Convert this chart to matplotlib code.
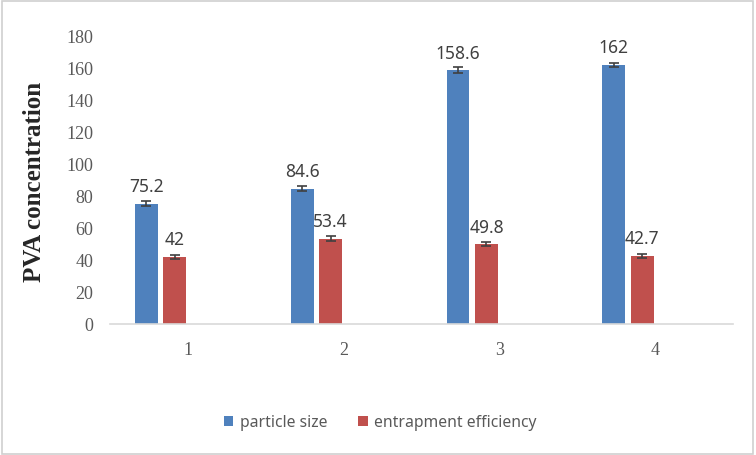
import matplotlib
matplotlib.use("Agg")
import matplotlib.pyplot as plt
import numpy as np
from matplotlib.patches import Rectangle

categories = ["1", "2", "3", "4"]
particle_size = [75.2, 84.6, 158.6, 162]
entrapment = [42, 53.4, 49.8, 42.7]
particle_err = [1.5, 1.5, 2.0, 1.2]
entrapment_err = [1.3, 1.3, 1.2, 1.2]
yticks = [0, 20, 40, 60, 80, 100, 120, 140, 160, 180]

fig = plt.figure(figsize=(7.56, 4.56), dpi=100)
fig.patches.append(Rectangle((0.002, 0.003), 0.994, 0.993, transform=fig.transFigure,
                             fill=False, edgecolor="#d0d0d0", linewidth=1.2))
ax = fig.add_axes([0.1455, 0.2873, 0.8241, 0.6316])

x = np.arange(len(categories))
w = 0.147
blue = "#4F81BD"
red = "#C0504D"
ekw = dict(ecolor="#404040", capsize=3.5, elinewidth=1.2, capthick=1.2)
b1 = ax.bar(x - 0.266, particle_size, w, color=blue, label="particle size",
            yerr=particle_err, error_kw=ekw)
b2 = ax.bar(x - 0.083, entrapment, w, color=red, label="entrapment efficiency",
            yerr=entrapment_err, error_kw=ekw)

for xi, v in zip(x - 0.266, particle_size):
    ax.annotate(f"{v:g}", (xi, v), xytext=(0, 6), textcoords="offset points",
                ha="center", va="bottom", fontsize=12.5, color="#404040", family="Noto Sans")
for xi, v in zip(x - 0.083, entrapment):
    ax.annotate(f"{v:g}", (xi, v), xytext=(0, 6), textcoords="offset points",
                ha="center", va="bottom", fontsize=12.5, color="#404040", family="Noto Sans")

ax.set_xlim(-0.5, 3.5)
ax.set_ylim(0, 180)
ax.set_yticks(yticks)
ax.set_xticks(x)
ax.set_xticklabels(categories)
for lab in ax.get_yticklabels() + ax.get_xticklabels():
    lab.set_family("Liberation Serif")
    lab.set_fontsize(13)
    lab.set_color("#595959")
ax.tick_params(axis="y", length=0, pad=12)
ax.tick_params(axis="x", length=0, pad=12)
for s in ["top", "right", "left"]:
    ax.spines[s].set_visible(False)
ax.spines["bottom"].set_color("#d9d9d9")
ax.spines["bottom"].set_linewidth(1.2)

fig.text(0.046, 0.601, "PVA concentration", rotation=90, ha="center", va="center",
         fontsize=18, fontweight="bold", family="Liberation Serif", color="#262626")

leg = fig.legend(handles=[b1, b2], labels=["particle size", "entrapment efficiency"],
                 loc="center", bbox_to_anchor=(0.503, 0.072), ncol=2, frameon=False,
                 handlelength=0.6, handleheight=0.6, handletextpad=0.4, columnspacing=2.0,
                 prop=dict(family="Noto Sans", size=11.3))
for t in leg.get_texts():
    t.set_color("#595959")

fig.savefig("out.png", dpi=100)
